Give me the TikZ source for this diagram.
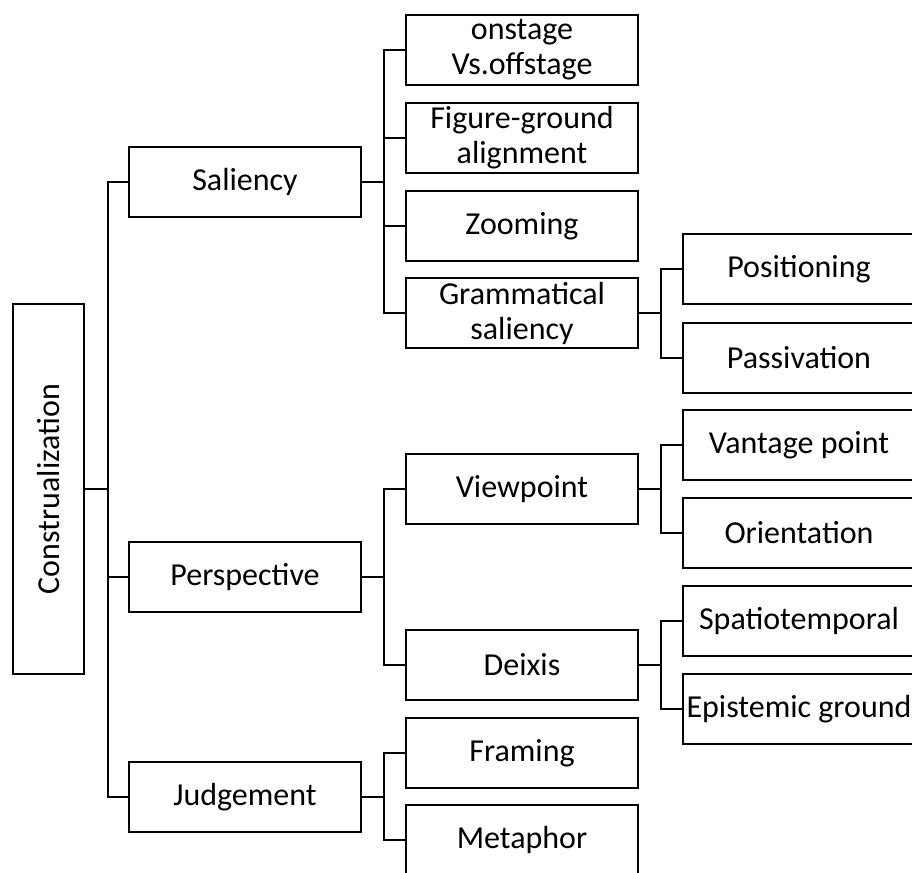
\documentclass[tikz,border=0pt]{standalone}
\usepackage{fontspec}
\setmainfont{Carlito}
\usepackage{tikz}

\begin{document}
\begin{tikzpicture}[x=1pt,y=1pt]
\tikzstyle{every node}+=[inner sep=0pt]
\tikzstyle{box}=[draw=black, line width=2.2pt, rectangle, minimum width=232pt, minimum height=70pt, align=center, font=\fontsize{32}{35}\selectfont]
\tikzstyle{link}=[draw=black, line width=2.2pt]
\useasboundingbox (0,0) rectangle (912,-872);
\clip (0,0) rectangle (912,-872);
\node [box, minimum width=71pt, minimum height=370pt] (cons) at (48.5,-489) {\rotatebox{90}{Construalization}};
\node [box] (sal) at (245,-182) {Saliency};
\node [box] (per) at (245,-577) {Perspective};
\node [box] (jud) at (245,-797) {Judgement};
\node [box] (onst) at (522,-50) {onstage\\Vs.offstage};
\node [box] (fig) at (522,-138) {Figure-ground\\alignment};
\node [box] (zoom) at (522,-226) {Zooming};
\node [box] (gram) at (522,-313) {Grammatical\\saliency};
\node [box] (pos) at (799,-269) {Positioning};
\node [box] (pas) at (799,-358) {Passivation};
\node [box] (view) at (522,-489) {Viewpoint};
\node [box] (van) at (799,-445) {Vantage point};
\node [box] (ori) at (799,-533) {Orientation};
\node [box] (dei) at (522,-665) {Deixis};
\node [box] (spa) at (799,-621) {Spatiotemporal};
\node [box] (epi) at (799,-709) {Epistemic ground};
\node [box] (fra) at (522,-753) {Framing};
\node [box] (met) at (522,-840) {Metaphor};
% trunk
\foreach \c in {sal,per,jud}
  \draw [link] (cons.east) -- ++(23,0) |- (\c.west);
\foreach \c in {onst,fig,zoom,gram}
  \draw [link] (sal.east) -- ++(22,0) |- (\c.west);
\foreach \c in {pos,pas}
  \draw [link] (gram.east) -- ++(22,0) |- (\c.west);
\foreach \c in {view,dei}
  \draw [link] (per.east) -- ++(22,0) |- (\c.west);
\foreach \c in {van,ori}
  \draw [link] (view.east) -- ++(22,0) |- (\c.west);
\foreach \c in {spa,epi}
  \draw [link] (dei.east) -- ++(22,0) |- (\c.west);
\foreach \c in {fra,met}
  \draw [link] (jud.east) -- ++(22,0) |- (\c.west);
\end{tikzpicture}
\end{document}
